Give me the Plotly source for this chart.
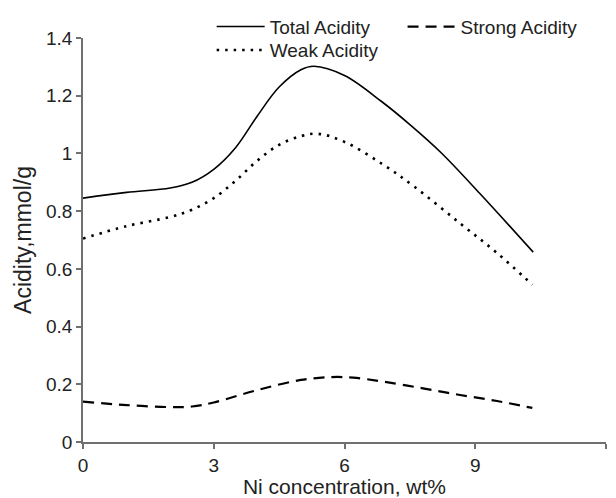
import plotly.graph_objects as go

# Data
total_x = [0, 1, 2, 2.5, 3, 3.5, 4, 4.5, 5, 5.3, 6, 6.85, 7.5, 8.2, 9.1, 10.33]
total_y = [0.845, 0.865, 0.88, 0.9, 0.945, 1.02, 1.13, 1.23, 1.29, 1.302, 1.27, 1.18, 1.10, 1.005, 0.862, 0.658]

weak_x = [0, 1, 2, 2.5, 3, 3.5, 4, 4.5, 5, 5.4, 6, 6.9, 7.6, 8.65, 9.5, 10.31]
weak_y = [0.705, 0.748, 0.78, 0.805, 0.845, 0.905, 0.975, 1.03, 1.06, 1.068, 1.04, 0.96, 0.885, 0.758, 0.655, 0.545]

strong_x = [0, 1, 2, 2.5, 3, 4, 5, 5.7, 6.2, 6.9, 7.8, 8.65, 9.5, 10.31]
strong_y = [0.14, 0.128, 0.121, 0.123, 0.137, 0.18, 0.215, 0.225, 0.223, 0.209, 0.186, 0.163, 0.142, 0.118]

x_ticks = [0, 3, 6, 9, 12]
y_ticks = [0, 0.2, 0.4, 0.6, 0.8, 1.0, 1.2, 1.4]
y_tick_text = ["0", "0.2", "0.4", "0.6", "0.8", "1", "1.2", "1.4"]

FONT = "Liberation Sans, Arial, sans-serif"
TXT = "#222222"
AX = "#707070"

fig = go.Figure()
fig.add_trace(go.Scatter(x=total_x, y=total_y, mode="lines", name="Total Acidity", showlegend=True,
                         line=dict(color="black", width=1.6, shape="spline", smoothing=1.0),
                         legend="legend"))
fig.add_trace(go.Scatter(x=strong_x, y=strong_y, mode="lines", name="Strong Acidity", showlegend=True,
                         line=dict(color="black", width=2.2, dash="11px,7px", shape="spline", smoothing=1.0),
                         legend="legend2"))
fig.add_trace(go.Scatter(x=weak_x, y=weak_y, mode="lines", name="Weak Acidity", showlegend=True,
                         line=dict(color="black", width=2.6, dash="2.5px,6px", shape="spline", smoothing=1.0),
                         legend="legend3"))

axis_common = dict(showgrid=False, zeroline=False, showline=True, linecolor=AX, linewidth=1.5,
                   ticks="outside", ticklen=5, tickwidth=1.5, tickcolor=AX,
                   tickfont=dict(family=FONT, size=19, color=TXT))

leg_common = dict(orientation="h", xanchor="left", yanchor="top",
                  font=dict(family=FONT, size=19, color=TXT), bgcolor="rgba(0,0,0,0)",
                  itemwidth=48)

fig.update_layout(
    width=616, height=498,
    showlegend=True,
    margin=dict(l=83, r=10, t=38, b=56, autoexpand=False),
    paper_bgcolor="white", plot_bgcolor="white",
    font=dict(family=FONT, color=TXT),
    xaxis=dict(range=[0, 12], tickvals=x_ticks, **axis_common,
               title=dict(text="Ni concentration, wt%", font=dict(family=FONT, size=21, color=TXT), standoff=8)),
    yaxis=dict(range=[0, 1.4], tickvals=y_ticks, ticktext=y_tick_text, **axis_common,
               title=dict(text="Acidity,mmol/g", font=dict(family=FONT, size=23, color=TXT), standoff=8)),
    legend=dict(x=0.246, y=1.075, **leg_common),
    legend2=dict(x=0.611, y=1.075, **leg_common),
    legend3=dict(x=0.246, y=1.017, **leg_common),
)

fig.write_html("out.html")
